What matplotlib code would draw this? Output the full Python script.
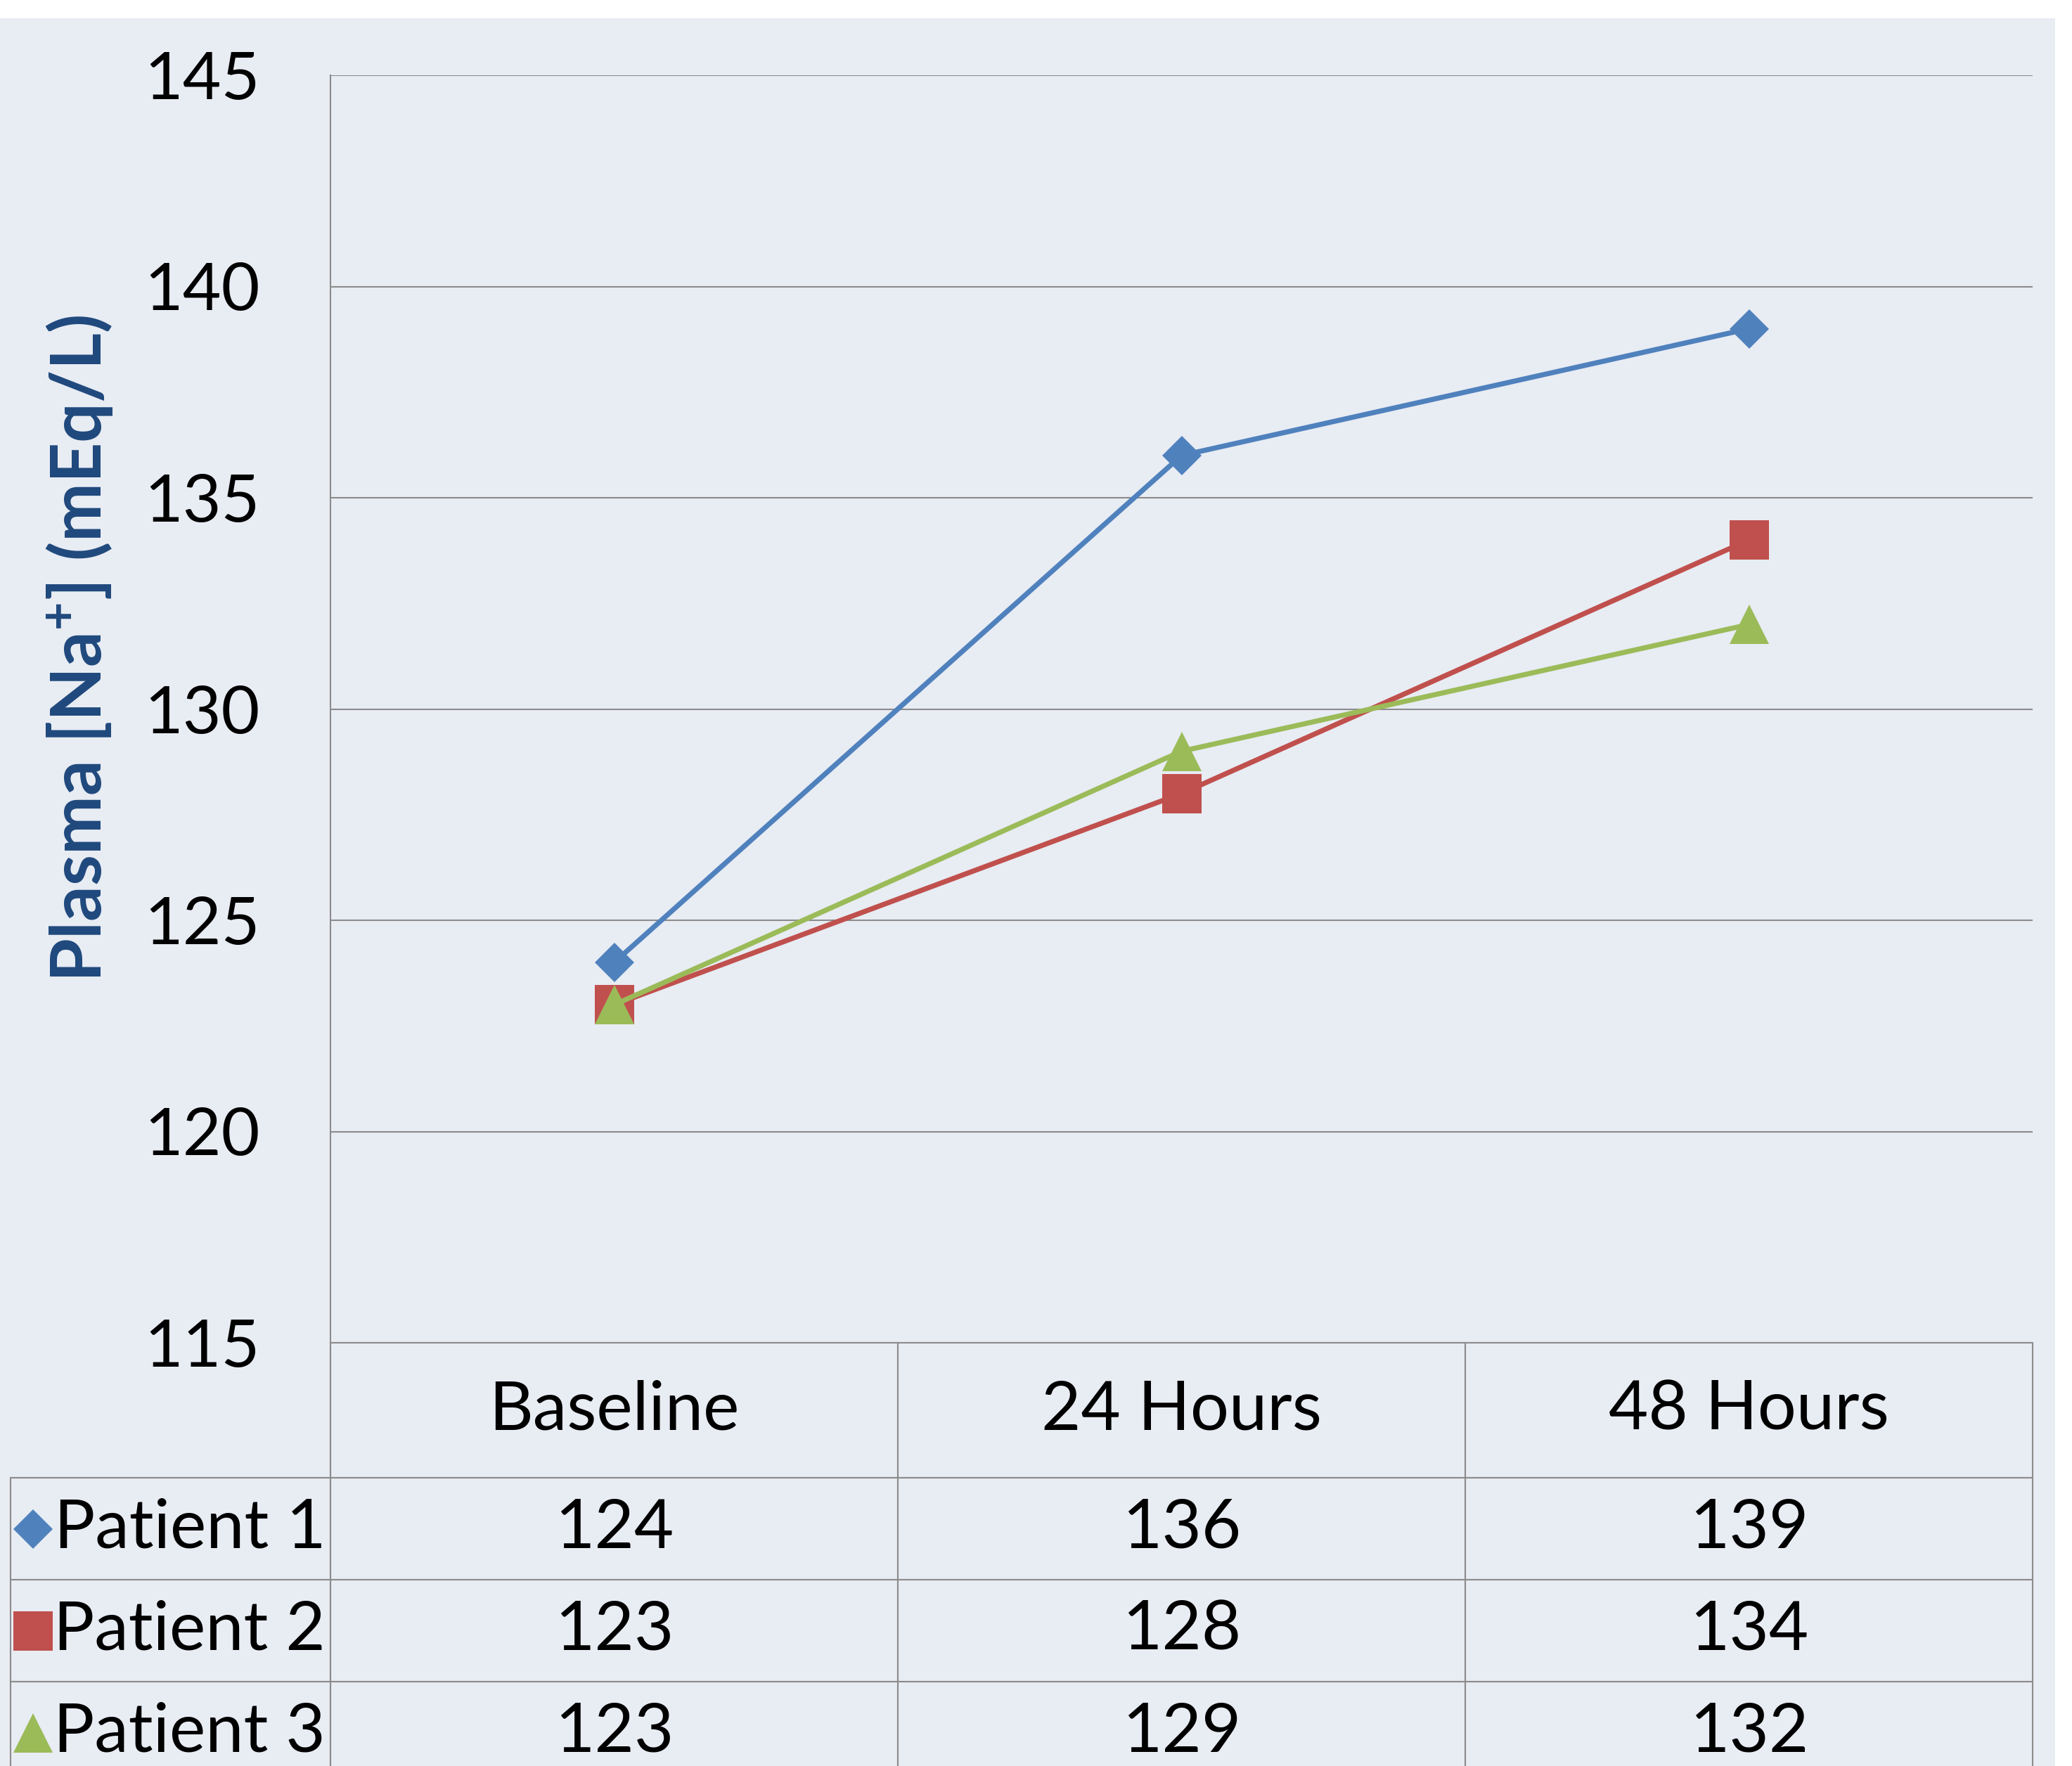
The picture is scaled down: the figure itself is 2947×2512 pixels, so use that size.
import matplotlib
matplotlib.use("Agg")
import matplotlib.pyplot as plt
from matplotlib.patches import Rectangle

# data
categories = ["Baseline", "24 Hours", "48 Hours"]
patients = ["Patient 1", "Patient 2", "Patient 3"]
patient1 = [124, 136, 139]
patient2 = [123, 128, 134]
patient3 = [123, 129, 132]
y_ticks = [115, 120, 125, 130, 135, 140, 145]

colors = ["#4F81BD", "#C0504D", "#9BBB59"]
markers = ["D", "s", "^"]
msizes = [29, 40, 40]
bg = "#E8ECF3"
grid_col = "#8C8C8C"

plt.rcParams["font.family"] = ["Lato", "DejaVu Sans"]
plt.rcParams["mathtext.default"] = "regular"

W, H = 2947, 2512
fig = plt.figure(figsize=(W / 100, H / 100), dpi=100, facecolor="white")
fig.patches.append(Rectangle((0, 0), 2923 / W, (H - 26) / H, transform=fig.transFigure,
                             facecolor=bg, edgecolor="none", zorder=-10))

ax_l, ax_r, ax_t, ax_b = 470, 2891, 107, 1910
ax = fig.add_axes([ax_l / W, 1 - ax_b / H, (ax_r - ax_l) / W, (ax_b - ax_t) / H])
ax.set_facecolor("none")

x = list(range(len(categories)))
series = [patient1, patient2, patient3]
for vals, c, m, ms in zip(series, colors, markers, msizes):
    ax.plot(x, vals, color=c, lw=5.2, marker=m, markersize=ms,
            markeredgewidth=0, zorder=3)

ax.set_xlim(-0.5, len(categories) - 0.5)
ax.set_ylim(115, 145)
ax.set_yticks(y_ticks)
ax.set_xticks([])
ax.yaxis.grid(True, color=grid_col, lw=1.5)
ax.set_axisbelow(True)
ax.tick_params(axis="y", length=0, pad=72, labelsize=68)
for s in ["top", "right", "bottom"]:
    ax.spines[s].set_visible(False)
ax.spines["left"].set_color(grid_col)
ax.spines["left"].set_linewidth(1.5)

ax.set_ylabel("Plasma [Na$^{+}$] (mEq/L)", fontsize=72, fontweight="bold", color="#1F497D")
ax.yaxis.label.set_verticalalignment("center")
ax.yaxis.set_label_coords(-0.1475, 0.5474)

# data table under the plot (first column holds the series names)
ax_h_px = ax_b - ax_t
ax_w_px = ax_r - ax_l
hdr_h = 192 / ax_h_px
row_h = 145 / ax_h_px
lab_w = 455 / ax_w_px
tbl_h = hdr_h + len(patients) * row_h
ncat = len(categories)
cell_text = [[name] + [str(v) for v in vals] for name, vals in zip(patients, series)]
tbl = ax.table(cellText=cell_text, colLabels=[""] + categories,
               colWidths=[lab_w] + [1 / ncat] * ncat,
               cellLoc="center", colLoc="center",
               bbox=[-lab_w, -tbl_h, 1 + lab_w, tbl_h])
tbl.auto_set_font_size(False)
tbl.set_fontsize(70)
for (r, c), cell in tbl.get_celld().items():
    cell.set_height(hdr_h if r == 0 else row_h)
    cell.set_facecolor("none")
    cell.set_edgecolor(grid_col)
    cell.set_linewidth(1.5)
    if c == 0:
        cell.PAD = 0.015
        cell.get_text().set_horizontalalignment("right")
        cell._loc = "right"
tbl[0, 0].visible_edges = "BR"

# legend keys in the row-label column
for i, (c, m, ms) in enumerate(zip(colors, markers, msizes)):
    ax.plot([-0.1747], [-(hdr_h + row_h * (i + 0.5))], transform=ax.transAxes,
            color=c, marker=m, markersize=ms, markeredgewidth=0, clip_on=False)

fig.savefig("out.png", dpi=100, facecolor="white")
